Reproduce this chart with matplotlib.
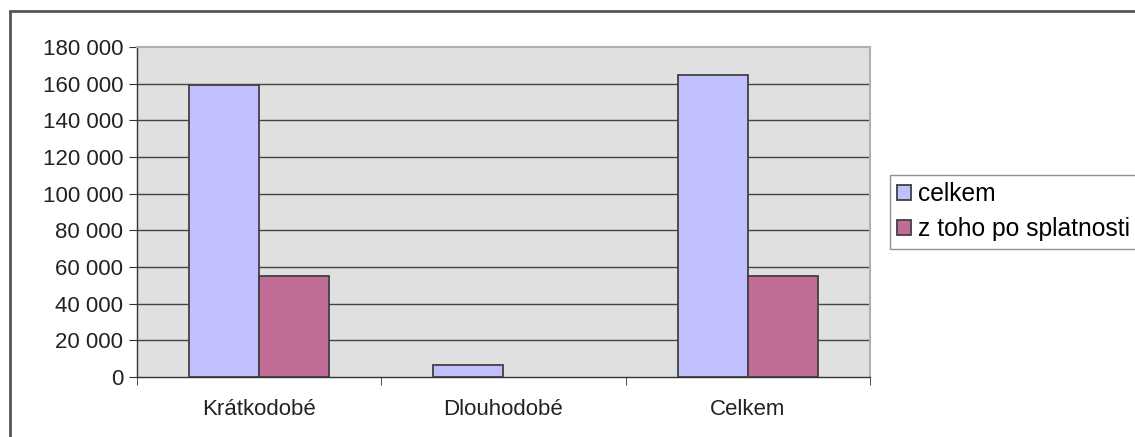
import numpy as np
import matplotlib
matplotlib.use("Agg")
import matplotlib.pyplot as plt
from matplotlib.patches import Rectangle

categories = ["Krátkodobé", "Dlouhodobé", "Celkem"]
celkem = [159000, 6500, 164500]
po_splatnosti = [55000, 0, 55000]
series_names = ["celkem", "z toho po splatnosti"]
yticks = np.arange(0, 180001, 20000)

plt.rcParams['font.family'] = ['Liberation Sans', 'DejaVu Sans']

W, H = 1135, 437
fig = plt.figure(figsize=(W / 100, H / 100), dpi=100)
# plot area in pixels: left 137, right 870, top 47, bottom 377
ax = fig.add_axes([137 / W, 1 - 377 / H, (870 - 137) / W, (377 - 47) / H])

# outer chart frame (runs off the right and bottom edge)
fig.patches.append(Rectangle((10 / W, -0.1), 1.2, 1 - 11 / H + 0.1,
                             transform=fig.transFigure, fill=False,
                             edgecolor="#555555", linewidth=2))

ax.set_facecolor("#e0e0e0")
x = np.arange(len(categories))
w = 0.287
edge = "#404040"
b1 = ax.bar(x - w / 2, celkem, w, color="#c0c0ff", edgecolor=edge, linewidth=1.3,
            label=series_names[0], zorder=3)
b2 = ax.bar(x + w / 2, po_splatnosti, w, color="#c06c96", edgecolor=edge, linewidth=1.3,
            label=series_names[1], zorder=3)
for p in list(b1) + list(b2):
    if p.get_height() == 0:
        p.set_visible(False)

ax.set_xlim(-0.5, len(categories) - 0.5)
ax.set_ylim(0, 180000)
ax.set_yticks(yticks)
ax.set_yticklabels([f"{v:,}".replace(",", " ") for v in yticks], fontsize=16, color="#222222")
for v in yticks[1:-1]:
    ax.axhline(v, color="#444444", linewidth=1, zorder=1)

ax.set_xticks(x)
ax.set_xticklabels(categories, fontsize=16, color="#222222")
ax.tick_params(axis="x", length=0, pad=16)
ax.set_xticks(np.arange(-0.5, len(categories)), minor=True)
ax.tick_params(axis="x", which="minor", length=6, color="#333333", direction="out")
ax.tick_params(axis="y", length=6, color="#333333", direction="out", pad=4)

for s in ["top", "right"]:
    ax.spines[s].set_color("#b0b0b0")
    ax.spines[s].set_linewidth(1.5)
for s in ["left", "bottom"]:
    ax.spines[s].set_color("#333333")
    ax.spines[s].set_linewidth(1)

leg = fig.legend(handles=[b1, b2], loc="upper left",
                 bbox_to_anchor=(890 / W, 1 - 175 / H), fontsize=17.7,
                 frameon=True, fancybox=False, borderaxespad=0,
                 handlelength=0.55, handleheight=0.55, handletextpad=0.3,
                 borderpad=0.3, labelspacing=0.45)
leg.get_frame().set_edgecolor("#777777")
leg.get_frame().set_linewidth(1)

fig.savefig("out.png", dpi=100)
